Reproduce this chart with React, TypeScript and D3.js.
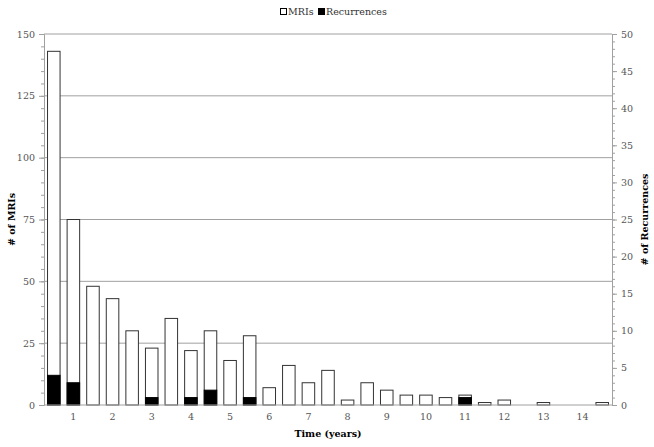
import React from 'react';
import * as d3 from 'd3';

// half-year bins, labels only on whole years
const years = [0.5, 1, 1.5, 2, 2.5, 3, 3.5, 4, 4.5, 5, 5.5, 6, 6.5, 7, 7.5, 8, 8.5, 9, 9.5, 10, 10.5, 11, 11.5, 12, 12.5, 13, 13.5, 14, 14.5];
const mris = [143, 75, 48, 43, 30, 23, 35, 22, 30, 18, 28, 7, 16, 9, 14, 2, 9, 6, 4, 4, 3, 4, 1, 2, 0, 1, 0, 0, 1];
const recurrences = [4, 3, 0, 0, 0, 1, 0, 1, 2, 0, 1, 0, 0, 0, 0, 0, 0, 0, 0, 0, 0, 1, 0, 0, 0, 0, 0, 0, 0];
const mriTicks = [0, 25, 50, 75, 100, 125, 150];
const recTicks = [0, 5, 10, 15, 20, 25, 30, 35, 40, 45, 50];
const yearTicks = [1, 2, 3, 4, 5, 6, 7, 8, 9, 10, 11, 12, 13, 14];

const W = 654;
const H = 447;
const margin = { top: 34, right: 42, bottom: 42, left: 44 };
const font = 'DejaVu Serif';
const gray = '#a0a0a0';

function App() {
  const leftRef = React.useRef<SVGGElement>(null);
  const rightRef = React.useRef<SVGGElement>(null);
  const bottomRef = React.useRef<SVGGElement>(null);

  const x = d3.scaleBand<number>()
    .domain(years)
    .range([margin.left, W - margin.right])
    .paddingInner(0.36)
    .paddingOuter(0.18);
  const yL = d3.scaleLinear().domain([0, 150]).range([H - margin.bottom, margin.top]);
  const yR = d3.scaleLinear().domain([0, 50]).range([H - margin.bottom, margin.top]);

  React.useEffect(() => {
    const styleAxis = (g: d3.Selection<SVGGElement, unknown, null, undefined>) => {
      g.selectAll('.domain').attr('stroke', gray);
      g.selectAll('.tick line').attr('stroke', gray);
      g.selectAll('.tick text').attr('fill', '#555').attr('font-family', font).attr('font-size', 9.5);
    };

    const left = d3.select(leftRef.current!);
    left.selectAll('*').remove();
    left.append('g').call(d3.axisLeft(yL).tickValues(d3.range(0, 151, 5)).tickSize(3).tickFormat(() => '').tickSizeOuter(0))
      .call(styleAxis);
    left.append('g').call(d3.axisLeft(yL).tickValues(mriTicks).tickSize(5).tickPadding(4).tickSizeOuter(0))
      .call(styleAxis);

    const right = d3.select(rightRef.current!);
    right.selectAll('*').remove();
    right.append('g').call(d3.axisRight(yR).tickValues(d3.range(0, 51, 1)).tickSize(3).tickFormat(() => '').tickSizeOuter(0))
      .call(styleAxis);
    right.append('g').call(d3.axisRight(yR).tickValues(recTicks).tickSize(5).tickPadding(4).tickSizeOuter(0))
      .call(styleAxis);

    const bottom = d3.select(bottomRef.current!);
    bottom.selectAll('*').remove();
    bottom.call(d3.axisBottom(x).tickValues(yearTicks).tickSize(0).tickPadding(8).tickSizeOuter(0))
      .call(styleAxis);
    bottom.select('.domain').attr('d', `M${margin.left},0H${W - margin.right}`);
  }, []);

  const baseY = H - margin.bottom;

  return (
    <svg width={W} height={H} style={{ position: 'absolute', left: 0, top: 0, background: '#fff' }}>
      {/* grid */}
      {mriTicks.filter(t => t > 0).map(t => (
        <line key={t} x1={margin.left} x2={W - margin.right} y1={yL(t)} y2={yL(t)} stroke={gray} strokeWidth={1} />
      ))}

      {/* MRI bars */}
      {years.map((yr, i) => (
        mris[i] > 0 && (
          <rect key={'m' + yr} x={x(yr)!} y={yL(mris[i])} width={x.bandwidth()} height={baseY - yL(mris[i])}
            fill="#fff" stroke="#333" strokeWidth={1} />
        )
      ))}

      {/* recurrence bars on right axis */}
      {years.map((yr, i) => (
        recurrences[i] > 0 && (
          <rect key={'r' + yr} x={x(yr)!} y={yR(recurrences[i])} width={x.bandwidth()} height={baseY - yR(recurrences[i])}
            fill="#000" stroke="#000" strokeWidth={1} />
        )
      ))}

      <g ref={leftRef} transform={`translate(${margin.left},0)`} />
      <g ref={rightRef} transform={`translate(${W - margin.right},0)`} />
      <g ref={bottomRef} transform={`translate(0,${baseY})`} />

      {/* axis titles */}
      <text x={(margin.left + W - margin.right) / 2} y={437} textAnchor="middle" fontFamily={font} fontSize={9.5} fontWeight="bold">
        Time (years)
      </text>
      <text transform={`translate(15,${(margin.top + baseY) / 2}) rotate(-90)`} textAnchor="middle" fontFamily={font} fontSize={9.5} fontWeight="bold">
        # of MRIs
      </text>
      <text transform={`translate(648,${(margin.top + baseY) / 2}) rotate(-90)`} textAnchor="middle" fontFamily={font} fontSize={9.5} fontWeight="bold">
        # of Recurrences
      </text>

      {/* legend */}
      <g fontFamily={font} fontSize={9.5} fill="#333">
        <rect x={280.5} y={8.5} width={6} height={6} fill="#fff" stroke="#000" />
        <text x={288} y={15}>MRIs</text>
        <rect x={318.5} y={8.5} width={6} height={6} fill="#000" stroke="#000" />
        <text x={326} y={15}>Recurrences</text>
      </g>
    </svg>
  );
}

export default App;
